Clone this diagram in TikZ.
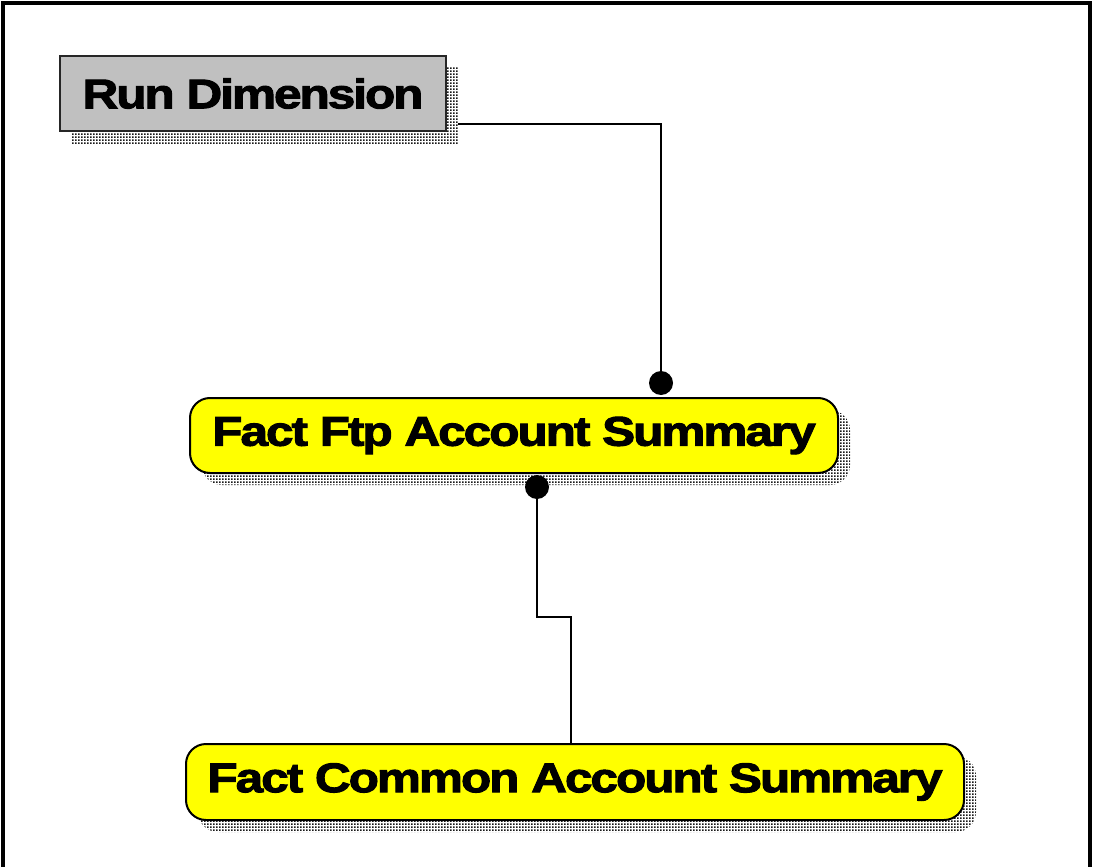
\documentclass[tikz,border=0pt]{standalone}
\usepackage{fontspec}
\setmainfont{Liberation Sans}
\newfontfamily\boxfont{Liberation Sans Bold}[FakeStretch=1.2, FakeBold=2.5, LetterSpace=-5]
\usetikzlibrary{shadows,patterns.meta}
\definecolor{boxgray}{RGB}{192,192,192}
\definecolor{factyellow}{RGB}{255,255,0}
\tikzdeclarepattern{
  name=halftone,
  type=uncolored,
  bottom left={(0pt,0pt)},
  top right={(2.25pt,2.25pt)},
  tile size={(2.25pt,2.25pt)},
  code={\fill (0pt,0pt) rectangle (1.5pt,1.5pt);}
}
\tikzset{
  dotshadow/.style={general shadow={draw=none, pattern=halftone, pattern color=black!90, shadow xshift=9pt, shadow yshift=-9pt}},
  dimbox/.style={draw=black!85, line width=1.5pt, fill=boxgray, inner sep=0pt, dotshadow,
    font=\boxfont\fontsize{31}{36}\selectfont},
  factbox/.style={draw=black, line width=1.5pt, fill=factyellow, rounded corners=15pt, inner sep=0pt, dotshadow,
    font=\boxfont\fontsize{31}{36}\selectfont},
  conn/.style={draw=black, line width=1.5pt},
  enddot/.style={circle, fill=black, inner sep=0pt, minimum size=18pt}
}
\begin{document}
\begin{tikzpicture}[x=0.75pt,y=-0.75pt]
\useasboundingbox (0,0) rectangle (1093,867);
% frame
\draw[line width=2.5pt] (3,867) -- (3,3) -- (1090,3) -- (1090,867);
% nodes
\node[dimbox, minimum width=289.5pt, minimum height=56.25pt] (run) at (253,93.5) {Run Dimension};
\node[factbox, minimum width=486pt, minimum height=56.25pt] (ftp) at (514,435.5) {Fact Ftp Account Summary};
\node[factbox, minimum width=583.5pt, minimum height=57pt] (common) at (575,782) {Fact Common Account Summary};
% connector coordinates
\coordinate (runout) at (458,124);
\node[enddot] (dotA) at (661,383) {};
\node[enddot] (dotB) at (537,487) {};
\coordinate (bendB) at (537,617);
\coordinate (bendC) at (571,617);
% connectors
\draw[conn] (runout) -| (dotA.center);
\draw[conn] (dotB.center) -- (bendB) -- (bendC) -- (bendC |- common.north);
\end{tikzpicture}
\end{document}
